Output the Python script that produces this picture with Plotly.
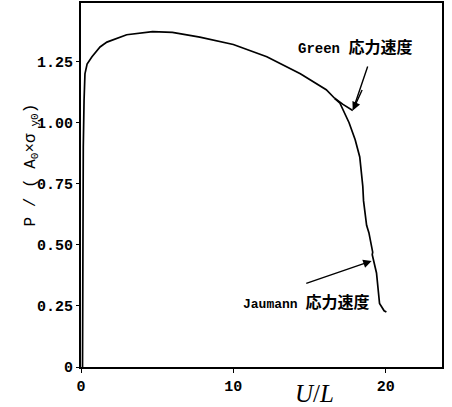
import plotly.graph_objects as go

# shared loading curve (until branches split)
main_x = [0.10, 0.12, 0.15, 0.20, 0.26, 0.40, 0.72, 1.25, 1.7, 3.0, 4.7, 6.0, 7.8, 10.0, 12.2, 14.4, 16.1, 16.65]
main_y = [0.00, 0.50, 0.90, 1.09, 1.20, 1.24, 1.27, 1.31, 1.33, 1.36, 1.373, 1.37, 1.35, 1.32, 1.27, 1.20, 1.135, 1.10]

# Green stress rate branch
green_x = [16.65, 17.2, 17.84]
green_y = [1.10, 1.075, 1.05]

# Jaumann stress rate branch
jau_x = [16.65, 17.0, 17.6, 18.0, 18.3, 18.5, 18.55, 18.75, 18.85, 18.9, 19.15, 19.12, 19.4, 19.6, 19.9, 20.05]
jau_y = [1.10, 1.08, 1.00, 0.93, 0.86, 0.74, 0.68, 0.58, 0.56, 0.55, 0.47, 0.46, 0.385, 0.26, 0.23, 0.225]

x_ticks = [0, 10, 20]
x_tick_text = ["0", "10", "20"]
y_ticks = [0, 0.25, 0.5, 0.75, 1.0, 1.25]
y_tick_text = ["0", "0.25", "0.50", "0.75", "1.00", "1.25"]

line = dict(color="black", width=1.7)
fig = go.Figure()
fig.add_trace(go.Scatter(x=main_x, y=main_y, mode="lines", line=line, showlegend=False))
fig.add_trace(go.Scatter(x=green_x, y=green_y, mode="lines", line=line, showlegend=False))
fig.add_trace(go.Scatter(x=jau_x, y=jau_y, mode="lines", line=line, showlegend=False))

cjk = '<span style="font-size:16px">応力速度</span>'
fig.add_annotation(x=18.82, y=1.23, ax=17.84, ay=1.05, xref="x", yref="y", axref="x", ayref="y",
                   text="", showarrow=True, arrowhead=0, arrowwidth=1.4, arrowcolor="black")
fig.add_annotation(x=17.84, y=1.05, ax=18.5, ay=1.14, xref="x", yref="y", axref="x", ayref="y",
                   text="", showarrow=True, arrowhead=2, arrowsize=1.2, arrowwidth=1.4, arrowcolor="black")
fig.add_annotation(x=18.0, y=1.305, xref="x", yref="y", showarrow=False,
                   text="Green " + cjk,
                   font=dict(family="Liberation Mono, Noto Sans CJK JP", size=14, color="black", weight="bold"))
fig.add_annotation(x=19.08, y=0.434, ax=14.69, ay=0.34, xref="x", yref="y", axref="x", ayref="y",
                   text="", showarrow=True, arrowhead=2, arrowsize=1.2, arrowwidth=1.4, arrowcolor="black")
fig.add_annotation(x=14.75, y=0.262, xref="x", yref="y", showarrow=False,
                   text="Jaumann " + cjk,
                   font=dict(family="Liberation Mono, Noto Sans CJK JP", size=13, color="black", weight="bold"))
fig.add_annotation(x=0.648, y=0, xref="paper", yref="paper", yshift=-26, yanchor="middle", showarrow=False,
                   text="<i>U</i>/<i>L</i>", font=dict(family="Liberation Serif", size=25, color="black"))
fig.add_annotation(x=-0.169, y=0.555, xref="paper", yref="paper", textangle=-90, showarrow=False,
                   text="P / ( A<sub>0</sub>×σ<sub> y0</sub>)",
                   font=dict(family="Liberation Mono", size=16, color="black"))

fig.update_xaxes(range=[0, 23.7], tickvals=x_ticks, ticktext=x_tick_text, showgrid=False, zeroline=False,
                 showline=True, linecolor="black", linewidth=2, mirror=True, ticks="outside", ticklen=4,
                 tickcolor="black", tickfont=dict(family="Liberation Mono", size=15, color="black", weight="bold"))
fig.update_yaxes(range=[0, 1.49], tickvals=y_ticks, ticktext=y_tick_text, showgrid=False, zeroline=False,
                 showline=True, linecolor="black", linewidth=2, mirror=True, ticks="outside", ticklen=3,
                 tickcolor="black", tickfont=dict(family="Liberation Mono", size=15, color="black", weight="bold"))
fig.update_layout(width=452, height=407, margin=dict(l=81, r=10, t=3, b=40, autoexpand=False),
                  plot_bgcolor="white", paper_bgcolor="white")
fig.write_html("out.html", config={"displayModeBar": False},
               post_script="document.body.style.margin='0';")
